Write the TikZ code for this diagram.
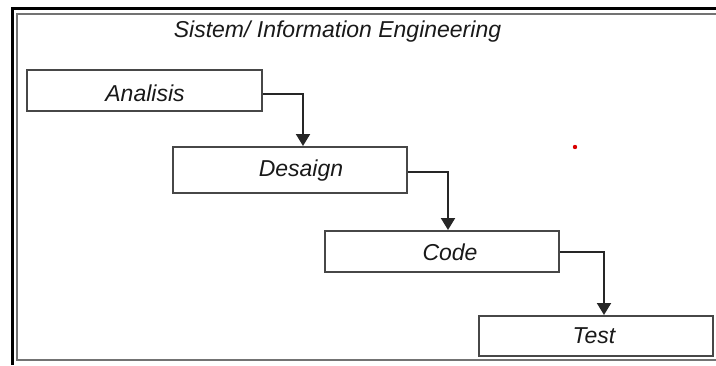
\documentclass[tikz,border=0pt]{standalone}
\usepackage{fontspec}
\setmainfont{Liberation Sans}
\usetikzlibrary{arrows.meta}
\begin{document}
\begin{tikzpicture}[x=1pt,y=-1pt,
  stage/.style={draw=black!72, line width=2pt, rectangle, inner sep=0pt},
  lbl/.style={anchor=base, inner sep=0pt, text=black!90, font=\fontsize{23}{27}\selectfont\itshape},
  flow/.style={draw=black!85, line width=2pt, -{Triangle[width=14pt,length=12pt]}}]
\useasboundingbox (0,0) rectangle (716,365);
% double frame
\draw[black, line width=3pt] (716,8) -- (12,8) -- (12,365);
\draw[black!55, line width=2pt] (716,14) -- (17,14) -- (17,360) -- (716,360);
% title
\node[lbl] (title) at (337.5,37) {Sistem/ Information Engineering};
% stage boxes
\node[stage, minimum width=235pt, minimum height=41pt] (A) at (144.5,90.5) {};
\node[stage, minimum width=234pt, minimum height=46pt] (D) at (290,170) {};
\node[stage, minimum width=234pt, minimum height=41pt] (C) at (442,251.5) {};
\node[stage, minimum width=234pt, minimum height=40pt] (T) at (596,336) {};
% stage labels
\node[lbl] (tA) at (145,101) {Analisis};
\node[lbl] (tD) at (301,176) {Desaign};
\node[lbl] (tC) at (450,260.5) {Code};
\node[lbl] (tT) at (594,343) {Test};
% connectors
\draw[flow] ([yshift=-3pt]A.east) -| ([xshift=13pt]D.north);
\draw[flow] ([yshift=-1.5pt]D.east) -| ([xshift=6pt]C.north);
\draw[flow] (C.east) -| ([xshift=8pt]T.north);
% stray mark
\fill[red!85!black] (575,147) circle (2.2pt);
\end{tikzpicture}
\end{document}
